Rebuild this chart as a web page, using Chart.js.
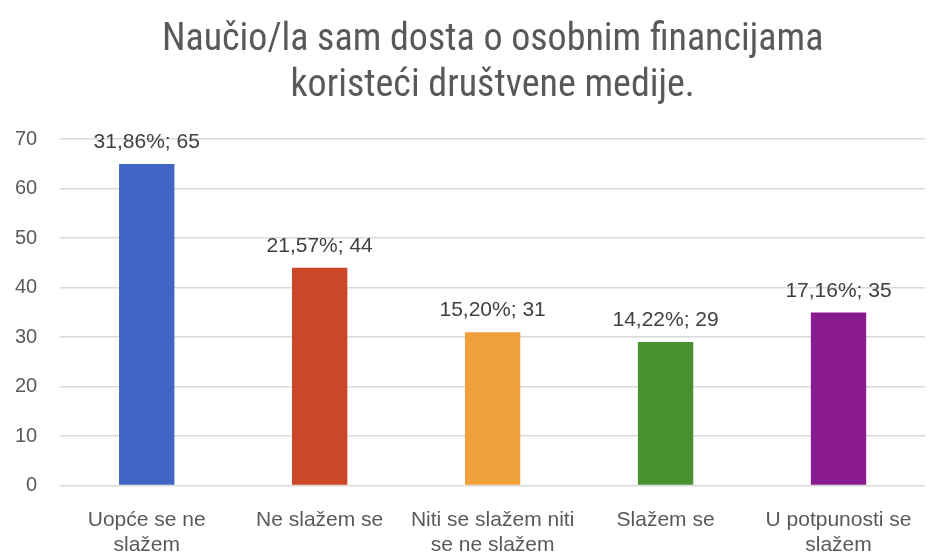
<!DOCTYPE html>
<html>
<head>
<meta charset="utf-8">
<script src="https://cdn.jsdelivr.net/npm/chart.js@4"></script>
<style>
html,body{margin:0;padding:0;background:#fff;}
#wrap{width:930px;height:557px;position:relative;}
</style>
</head>
<body>
<div id="wrap"><canvas id="c" width="930" height="557"></canvas></div>
<script>
const categories = [['Uopće se ne','slažem'], 'Ne slažem se', ['Niti se slažem niti','se ne slažem'], 'Slažem se', ['U potpunosti se','slažem']];
const counts = [65, 44, 31, 29, 35];
const percents = ['31,86%', '21,57%', '15,20%', '14,22%', '17,16%'];
const yTicks = [0, 10, 20, 30, 40, 50, 60, 70];
const barColors = ['#4165c5', '#cc4628', '#f0a03a', '#46922f', '#8a1a8f'];
const titleLines = ['Naučio/la sam dosta o osobnim financijama', 'koristeći društvene medije.'];

const labelPlugin = {
  id: 'barLabels',
  afterDatasetsDraw(chart) {
    const ctx = chart.ctx;
    const meta = chart.getDatasetMeta(0);
    ctx.save();
    ctx.font = '21px "Liberation Sans", Arial, sans-serif';
    ctx.fillStyle = '#404040';
    ctx.textAlign = 'center';
    ctx.textBaseline = 'bottom';
    meta.data.forEach((bar, i) => {
      ctx.fillText(percents[i] + '; ' + counts[i], bar.x, bar.y - 11);
    });
    ctx.restore();
  }
};

new Chart(document.getElementById('c'), {
  type: 'bar',
  data: {
    labels: categories,
    datasets: [{
      data: counts,
      backgroundColor: barColors,
      borderWidth: 0,
      barPercentage: 0.64,
      categoryPercentage: 0.5
    }]
  },
  options: {
    responsive: false,
    animation: false,
    layout: { padding: { left: -8, right: 5, top: 4, bottom: -15 } },
    plugins: {
      legend: { display: false },
      tooltip: { enabled: false },
      title: {
        display: true,
        fullSize: false,
        text: titleLines,
        color: '#595959',
        font: { family: '"Liberation Sans Narrow", "Roboto Condensed", "Liberation Sans", sans-serif', size: 38, weight: 'normal', lineHeight: 1.2 },
        padding: { top: 14, bottom: 30 }
      }
    },
    scales: {
      x: {
        grid: { display: false },
        border: { display: false },
        ticks: {
          color: '#595959',
          font: { family: '"Liberation Sans", Arial, sans-serif', size: 21, lineHeight: 1.2 },
          maxRotation: 0,
          autoSkip: false,
          padding: 14
        }
      },
      y: {
        min: 0,
        max: 70,
        afterBuildTicks(axis) { axis.ticks = yTicks.map(v => ({ value: v })); },
        grid: { color: '#d9d9d9', lineWidth: 1.5, drawTicks: false },
        border: { display: false },
        ticks: {
          color: '#595959',
          font: { family: '"Liberation Sans", Arial, sans-serif', size: 20 },
          padding: 23
        }
      }
    }
  },
  plugins: [labelPlugin]
});
</script>
</body>
</html>
